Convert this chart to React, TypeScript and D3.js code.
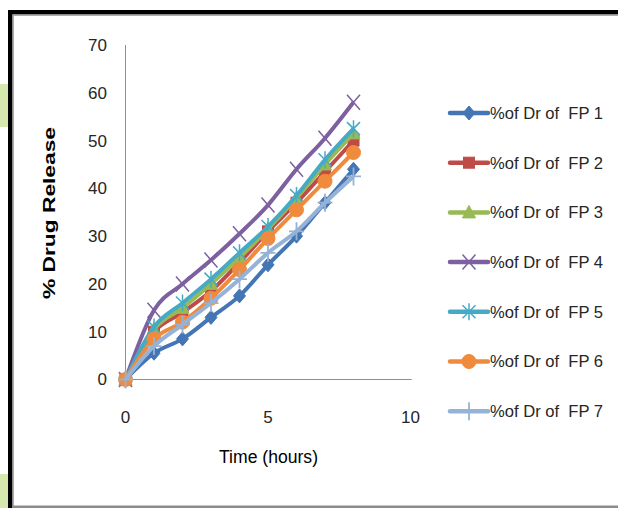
import React from "react";
import * as d3 from "d3";

const time = [0, 1, 2, 3, 4, 5, 6, 7, 8];
const fp1 = [0, 5.5, 8.5, 13, 17.5, 24, 30, 37, 44];
const fp2 = [0, 10, 14, 18.5, 24.5, 31, 37, 43.5, 50];
const fp3 = [0, 10.5, 15, 20, 25.5, 31.5, 38, 45, 51.5];
const fp4 = [0, 14.5, 20, 25, 30.5, 36.5, 44, 50.5, 58];
const fp5 = [0, 11, 16, 21, 26.5, 32, 38.5, 46, 52.5];
const fp6 = [0, 8.5, 12, 17, 23, 29.5, 35.5, 41.5, 47.5];
const fp7 = [0, 7, 11.5, 16, 21, 26.5, 31, 37, 42.5];

const seriesNames = [
  "%of Dr of  FP 1",
  "%of Dr of  FP 2",
  "%of Dr of  FP 3",
  "%of Dr of  FP 4",
  "%of Dr of  FP 5",
  "%of Dr of  FP 6",
  "%of Dr of  FP 7",
];
const seriesValues = [fp1, fp2, fp3, fp4, fp5, fp6, fp7];
const colors = ["#4475B4", "#BE4B48", "#98B954", "#7D60A0", "#46AAC5", "#F08A3C", "#95B3D7"];
const markers = ["diamond", "square", "triangle", "x", "asterisk", "circle", "plus"];

const yTicks = [0, 10, 20, 30, 40, 50, 60, 70];
const xTicks = [0, 5, 10];

const FONT = "'Liberation Sans', Arial, sans-serif";

function Marker({ type, x, y, color }: { type: string; x: number; y: number; color: string }) {
  switch (type) {
    case "diamond":
      return <path d={`M${x},${y - 7}L${x + 6},${y}L${x},${y + 7}L${x - 6},${y}Z`} fill={color} stroke={color} strokeWidth={1} />;
    case "square":
      return <rect x={x - 5.5} y={y - 5.5} width={11} height={11} fill={color} stroke={color} strokeWidth={1} />;
    case "triangle":
      return <path d={`M${x},${y - 7}L${x + 6.5},${y + 5.5}L${x - 6.5},${y + 5.5}Z`} fill={color} stroke={color} strokeWidth={1} />;
    case "x":
      return (
        <path d={`M${x - 6.5},${y - 7.5}L${x + 6.5},${y + 7.5}M${x + 6.5},${y - 7.5}L${x - 6.5},${y + 7.5}`} stroke={color} strokeWidth={1.5} fill="none" />
      );
    case "asterisk":
      return (
        <path
          d={`M${x - 6.5},${y - 6.5}L${x + 6.5},${y + 6.5}M${x + 6.5},${y - 6.5}L${x - 6.5},${y + 6.5}M${x},${y - 8.5}L${x},${y + 8.5}`}
          stroke={color}
          strokeWidth={1.5}
          fill="none"
        />
      );
    case "circle":
      return <circle cx={x} cy={y} r={7} fill={color} stroke={color} strokeWidth={1} />;
    case "plus":
      return <path d={`M${x - 7.5},${y}L${x + 7.5},${y}M${x},${y - 9}L${x},${y + 9}`} stroke={color} strokeWidth={1.8} fill="none" />;
    default:
      return null;
  }
}

export default function App() {
  const x = d3.scaleLinear().domain([0, 10]).range([125.5, 410.5]);
  const y = d3.scaleLinear().domain([0, 70]).range([379.5, 45]);
  const line = d3
    .line<number>()
    .x((_, i) => x(time[i]))
    .y((d) => y(d))
    .curve(d3.curveCardinal.tension(0));

  const legendX = 450;
  const legendY0 = 113;
  const legendStep = 49.7;

  return (
    <div style={{ position: "fixed", left: 0, top: 0 }}>
      <svg width={618} height={508} style={{ display: "block" }}>
        <rect x={0} y={0} width={618} height={508} fill="#ffffff" />
        {/* slide background hints */}
        <rect x={0} y={84} width={8} height={43} fill="#D7E8AE" />
        <rect x={0} y={474} width={8} height={34} fill="#D7E8AE" />
        {/* frame */}
        <rect x={8} y={10} width={620} height={500} fill="#ffffff" />
        <rect x={8} y={10} width={612} height={4.5} fill="#000000" />
        <rect x={8} y={10} width={4.5} height={500} fill="#000000" />
        <rect x={12.5} y={14.5} width={610} height={1.3} fill="#9A9A9A" />
        <rect x={12.5} y={14.5} width={1.3} height={500} fill="#9A9A9A" />
        <rect x={12.5} y={505.5} width={610} height={2.5} fill="#8C8C8C" />

        {/* axes */}
        <line x1={x(0)} x2={x(0)} y1={y(70)} y2={y(0)} stroke="#8E8E8E" strokeWidth={1} />
        <line x1={x(0)} x2={411.7} y1={y(0)} y2={y(0)} stroke="#8E8E8E" strokeWidth={1} />

        {yTicks.map((t) => (
          <text key={"y" + t} x={107} y={y(t)} dy="0.35em" textAnchor="end" fontFamily={FONT} fontSize={17} fill="#262626">
            {t}
          </text>
        ))}
        {xTicks.map((t) => (
          <text key={"x" + t} x={x(t)} y={417} dy="0.35em" textAnchor="middle" fontFamily={FONT} fontSize={17} fill="#262626">
            {t}
          </text>
        ))}

        <text
          x={219}
          y={457}
          dy="0.35em"
          fontFamily={FONT}
          fontSize={18}
          fill="#000000"
          textLength={99}
          lengthAdjust="spacingAndGlyphs"
        >
          Time (hours)
        </text>
        <text
          transform="translate(49,299) rotate(-90)"
          dy="0.35em"
          fontFamily={FONT}
          fontWeight="bold"
          fontSize={17}
          textLength={172}
          lengthAdjust="spacingAndGlyphs"
          fill="#000000"
        >
          % Drug Release
        </text>

        {/* series */}
        {seriesValues.map((vals, si) => (
          <g key={"s" + si}>
            <path d={line(vals) || ""} fill="none" stroke={colors[si]} strokeWidth={4} strokeLinejoin="round" />
            {vals.map((v, i) => (
              <Marker key={i} type={markers[si]} x={x(time[i])} y={y(v)} color={colors[si]} />
            ))}
          </g>
        ))}

        {/* legend */}
        {seriesNames.map((name, si) => {
          const ly = legendY0 + si * legendStep;
          return (
            <g key={"l" + si}>
              <line x1={legendX} x2={legendX + 38} y1={ly} y2={ly} stroke={colors[si]} strokeWidth={4.5} strokeLinecap="round" />
              <Marker type={markers[si]} x={legendX + 19} y={ly} color={colors[si]} />
              <text
                x={legendX + 40}
                y={ly}
                dy="0.35em"
                fontFamily={FONT}
                fontSize={17}
                fill="#262626"
                textLength={113}
                lengthAdjust="spacingAndGlyphs"
                style={{ whiteSpace: "pre" }}
              >
                {name}
              </text>
            </g>
          );
        })}
      </svg>
    </div>
  );
}
